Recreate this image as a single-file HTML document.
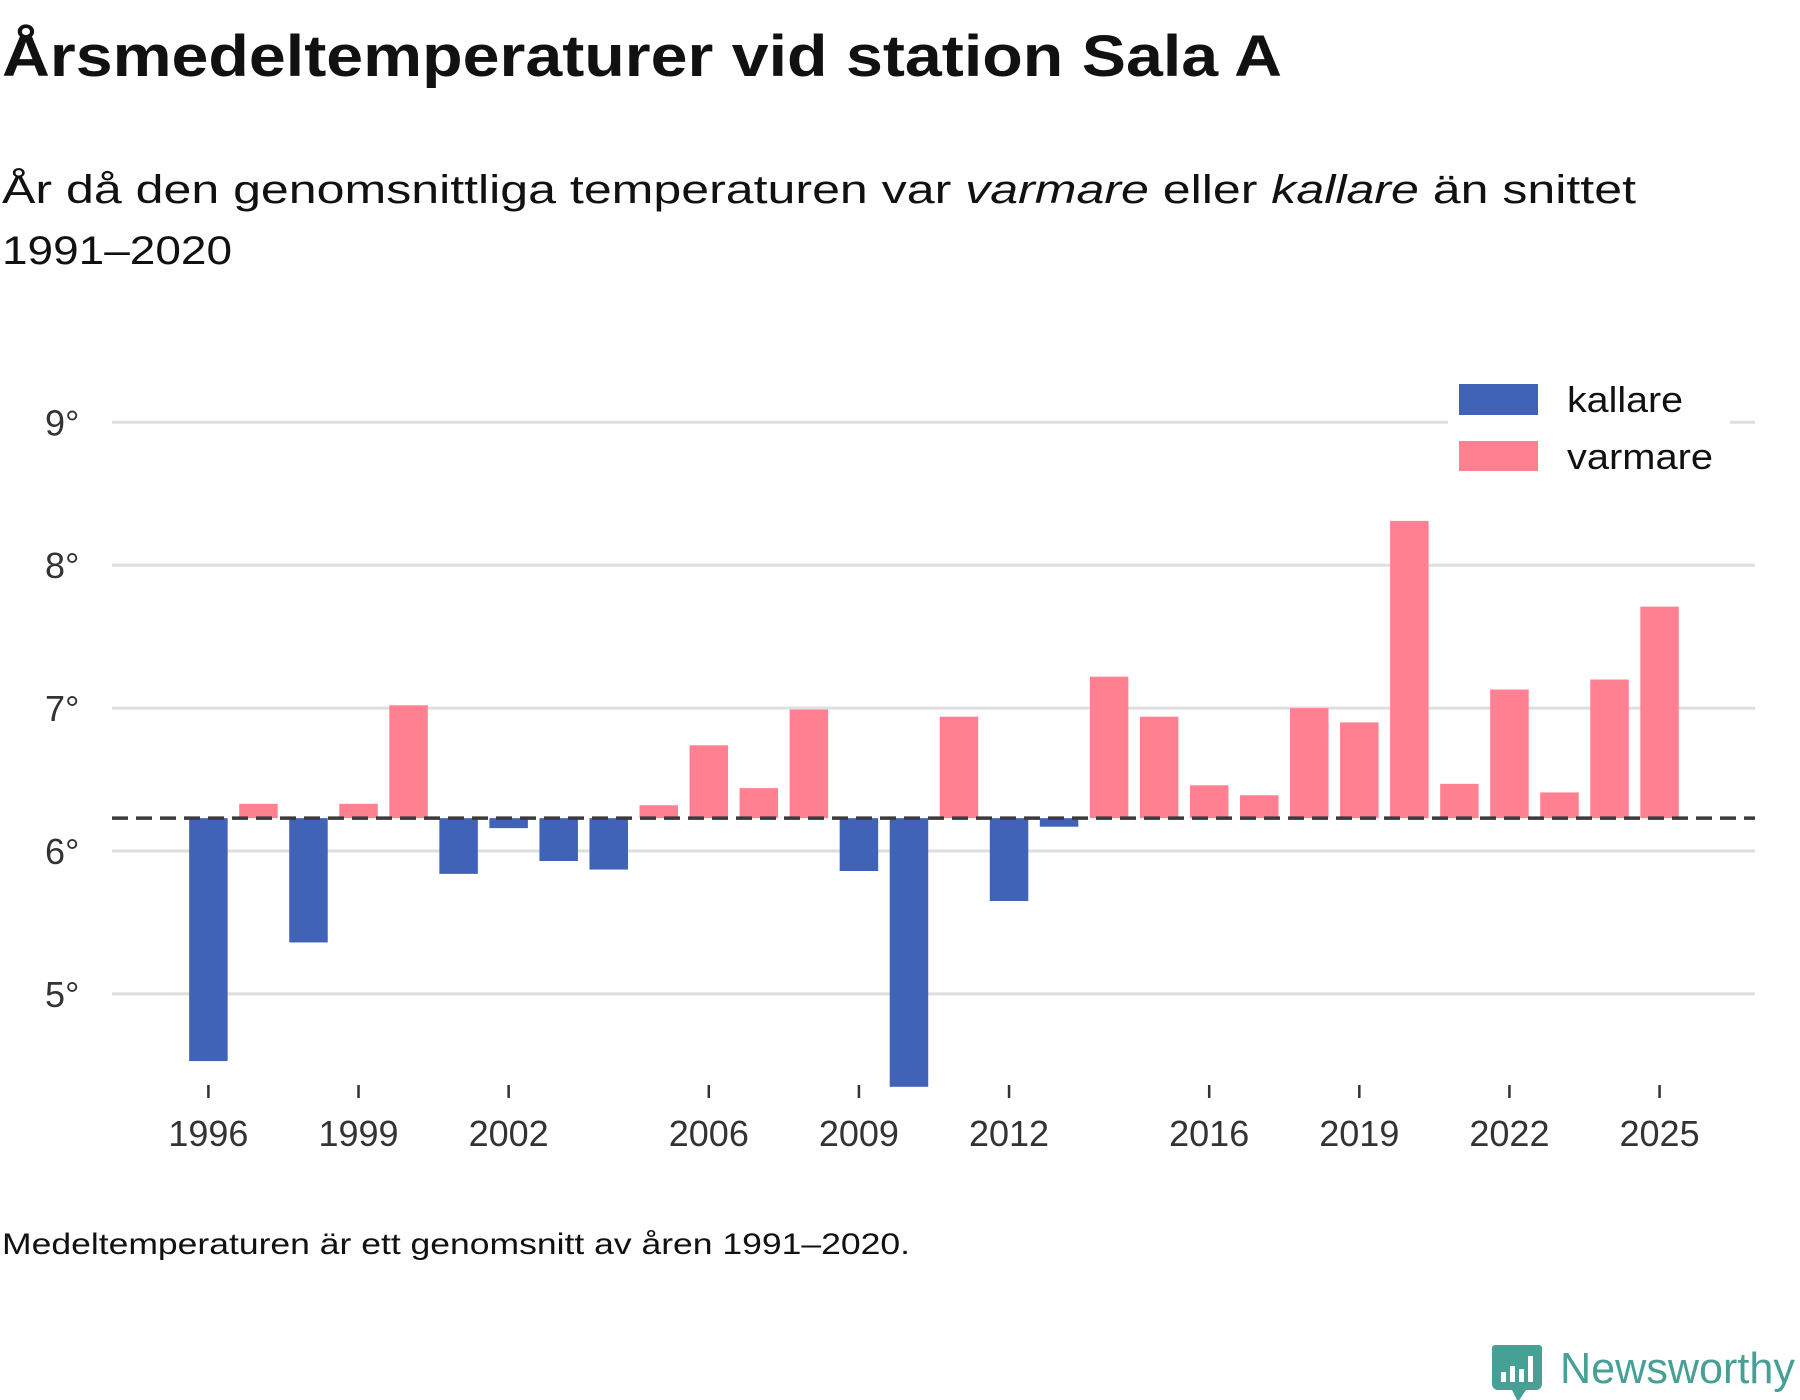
<!DOCTYPE html>
<html><head><meta charset="utf-8"><style>
html,body{margin:0;padding:0;background:#fff;}
svg{display:block;font-family:"Liberation Sans","DejaVu Sans",sans-serif;}
</style></head><body>
<svg id="chart" width="1800" height="1400" viewBox="0 0 1800 1400" xmlns="http://www.w3.org/2000/svg">
<text x="2" y="76" font-size="58" font-weight="bold" fill="#111" textLength="1280" lengthAdjust="spacingAndGlyphs">Årsmedeltemperaturer vid station Sala A</text>
<text x="2" y="203" font-size="40" fill="#111" textLength="1634" lengthAdjust="spacingAndGlyphs">År då den genomsnittliga temperaturen var <tspan font-style="italic">varmare</tspan> eller <tspan font-style="italic">kallare</tspan> än snittet</text>
<text x="2" y="264" font-size="40" fill="#111" textLength="230" lengthAdjust="spacingAndGlyphs">1991–2020</text>
<g id="grid"></g>
<g id="bars"></g>
<g id="xaxis"></g>
<g id="legend">
  <rect x="1448" y="375" width="282" height="110" fill="#fff"/>
  <rect x="1459" y="384" width="79" height="31" fill="#4063b8"/>
  <text x="1567" y="412" font-size="36" fill="#111" textLength="116" lengthAdjust="spacingAndGlyphs">kallare</text>
  <rect x="1459" y="441" width="79" height="30" fill="#ff8191"/>
  <text x="1567" y="469" font-size="36" fill="#111" textLength="146" lengthAdjust="spacingAndGlyphs">varmare</text>
</g>
<text x="2" y="1254" font-size="30" fill="#111" textLength="908" lengthAdjust="spacingAndGlyphs">Medeltemperaturen är ett genomsnitt av åren 1991–2020.</text>
<g>
  <path d="M1495 1345 h44 a3 3 0 0 1 3 3 v36 a6 6 0 0 1 -6 6 h-10 l-8 12 l-6 -12 h-14 a6 6 0 0 1 -6 -6 v-36 a3 3 0 0 1 3 -3z" fill="#46a096"/>
  <rect x="1501" y="1372" width="5" height="10" fill="#fff"/>
  <rect x="1510" y="1366" width="5" height="16" fill="#fff"/>
  <rect x="1519" y="1369" width="5" height="13" fill="#fff"/>
  <rect x="1528" y="1356" width="5" height="26" fill="#fff"/>
  <text x="1560" y="1383" font-size="44" fill="#46a096" textLength="235" lengthAdjust="spacingAndGlyphs">Newsworthy</text>
</g>
</svg>
<script>
const years = [1996,1997,1998,1999,2000,2001,2002,2003,2004,2005,2006,2007,2008,2009,2010,2011,2012,2013,2014,2015,2016,2017,2018,2019,2020,2021,2022,2023,2024,2025];
const temps = [4.53,6.33,5.36,6.33,7.02,5.84,6.16,5.93,5.87,6.32,6.74,6.44,6.99,5.86,4.35,6.94,5.65,6.17,7.22,6.94,6.46,6.39,7.0,6.9,8.31,6.47,7.13,6.41,7.2,7.71];
const normal = [6.23];
const yTicks = [5,6,7,8,9];
const yTickLabels = ["5°","6°","7°","8°","9°"];
const xTicks = [1996,1999,2002,2006,2009,2012,2016,2019,2022,2025];

const NS = "http://www.w3.org/2000/svg";
const x = yr => 208.4 + (yr - 1996) * 50.04;
const y = v => 851 - (v - 6) * 142.9;
const barW = 38.5;
function mk(tag, attrs, parent){const e=document.createElementNS(NS,tag);for(const k in attrs)e.setAttribute(k,attrs[k]);parent.appendChild(e);return e;}

const grid = document.getElementById('grid');
yTicks.forEach((t,i)=>{
  const l = mk('line',{x1:112,x2:1755,y1:y(t),y2:y(t),stroke:'#dedede','stroke-width':3},grid);
  
  
  const tx = mk('text',{x:45,y:y(t)+13,'font-size':36,fill:'#333'},grid);
  tx.textContent = yTickLabels[i];
  
  
});

const bars = document.getElementById('bars');
years.forEach((yr,i)=>{
  const v = temps[i], m = normal[0];
  const top = Math.min(y(v), y(m)), h = Math.abs(y(v)-y(m));
  const r = mk('rect',{x:x(yr)-barW/2,y:top,width:barW,height:h,fill: v>=m ? '#ff8191' : '#4063b8'},bars);
  
  
});
const ml = mk('line',{x1:112,x2:1755,y1:y(normal[0]),y2:y(normal[0]),stroke:'#3a3a3a','stroke-width':3.5,'stroke-dasharray':'16 8'},bars);



const xa = document.getElementById('xaxis');
xTicks.forEach(yr=>{
  const t = mk('line',{x1:x(yr),x2:x(yr),y1:1085,y2:1098,stroke:'#333','stroke-width':2.5},xa);
  
  
  const tx = mk('text',{x:x(yr),y:1146,'font-size':36,fill:'#333','text-anchor':'middle'},xa);
  tx.textContent = yr;
  
  
});
</script>
</body></html>
